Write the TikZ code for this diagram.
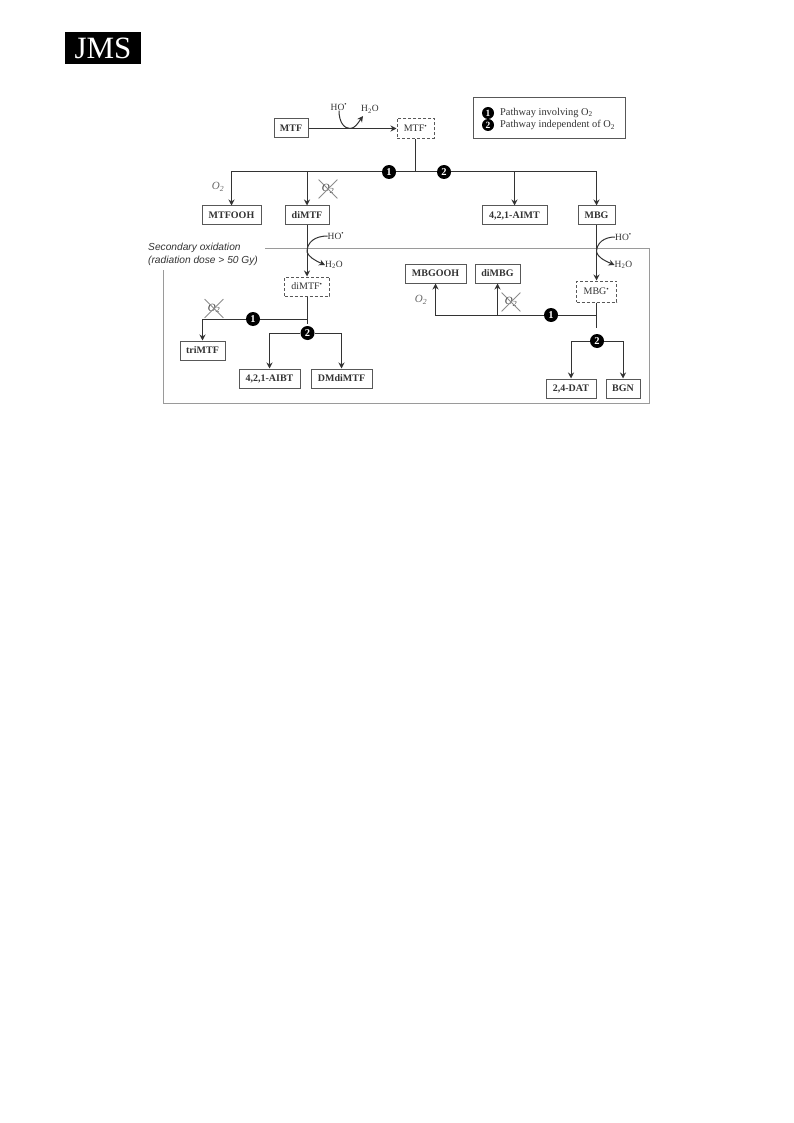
\documentclass[tikz,border=0pt]{standalone}
\usepackage{fontspec}
\setmainfont{Liberation Serif}
\newfontfamily\sansfam{Liberation Sans}
\usetikzlibrary{arrows.meta,shapes.misc,calc}
\definecolor{ink}{HTML}{333333}
\definecolor{frame}{HTML}{9A9A9A}
\definecolor{boxline}{HTML}{585858}
\newcommand{\HOdot}{HO\textsuperscript{•}}
\newcommand{\HtwoO}{H\textsubscript{2}O}
\newcommand{\Otwo}{O\textsubscript{2}}
\tikzset{
  prod/.style={draw=boxline,line width=1pt,fill=white,inner sep=0pt,font=\fontsize{10}{11}\selectfont\bfseries,text=ink},
  radical/.style={draw=boxline,densely dashed,line width=1pt,fill=white,inner sep=0pt,font=\fontsize{10}{11}\selectfont,text=ink},
  conn/.style={draw=ink,line width=1pt},
  arr/.style={conn,-{Stealth[length=6pt,width=6pt]}},
  num/.style={circle,fill=black,text=white,inner sep=0pt,minimum size=14pt,font=\fontsize{10.5}{11}\selectfont\bfseries},
  lnum/.style={num,minimum size=12pt,font=\fontsize{9.5}{10}\selectfont\bfseries},
  reag/.style={inner sep=0pt,font=\fontsize{9.5}{10}\selectfont,text=ink},
  otwo/.style={inner sep=0pt,font=\fontsize{11}{12}\selectfont\itshape,text=black!60},
  noox/.style={otwo,text=black!75,cross out,draw=black!45,line width=0.8pt,minimum width=18pt,minimum height=18pt},
  legend/.style={inner sep=0pt,anchor=west,font=\fontsize{10.4}{11}\selectfont,text=ink},
  note/.style={inner sep=0pt,anchor=west,font=\sansfam\fontsize{10.2}{11}\selectfont\itshape,text=ink}
}
\begin{document}
\begin{tikzpicture}[x=1pt,y=-1pt]
\useasboundingbox (0,0) rectangle (793,1123);
% logo
\node[fill=black,minimum width=76pt,minimum height=32pt,inner sep=0pt,text=white,font=\fontsize{31}{32}\selectfont] (logo) at (103,48) {JMS};
% frame of the secondary oxidation
\draw[frame,line width=1pt] (265,248) -- (649,248) -- (649,403.5) -- (163,403.5) -- (163,270);
\node[note] (sec1) at (148,247.5) {Secondary oxidation};
\node[note] (sec2) at (148,260.5) {(radiation dose > 50 Gy)};
% legend
\node[draw=boxline,line width=1pt,minimum width=152pt,minimum height=41pt,inner sep=0pt] (legendbox) at (549,118.5) {};
\node[lnum] (lg1) at (488,113) {1};
\node[lnum] (lg2) at (488,125) {2};
\node[legend] (lgt1) at (500,113) {Pathway involving \Otwo};
\node[legend] (lgt2) at (500,125) {Pathway independent of \Otwo};
% products
\node[prod,minimum width=34pt,minimum height=19pt] (mtf) at (291,128.5) {MTF};
\node[radical,minimum width=37pt,minimum height=20pt] (mtfr) at (415.5,128.5) {MTF\textsuperscript{•}};
\node[prod,minimum width=59pt,minimum height=19pt] (mtfooh) at (231.5,215.5) {MTFOOH};
\node[prod,minimum width=44pt,minimum height=19pt] (dimtf) at (307,215.5) {diMTF};
\node[prod,minimum width=65pt,minimum height=19pt] (aimt) at (514.5,215.5) {4,2,1-AIMT};
\node[prod,minimum width=37pt,minimum height=19pt] (mbg) at (596.5,215.5) {MBG};
\node[radical,minimum width=45pt,minimum height=19pt] (dimtfr) at (307,286.5) {diMTF\textsuperscript{•}};
\node[prod,minimum width=45pt,minimum height=19pt] (trimtf) at (202.5,350.5) {triMTF};
\node[prod,minimum width=61pt,minimum height=19pt] (aibt) at (269.5,378.5) {4,2,1-AIBT};
\node[prod,minimum width=61pt,minimum height=19pt] (dmdimtf) at (341.5,378.5) {DMdiMTF};
\node[prod,minimum width=61pt,minimum height=19pt] (mbgooh) at (435.5,273.5) {MBGOOH};
\node[prod,minimum width=45pt,minimum height=19pt] (dimbg) at (497.5,273.5) {diMBG};
\node[radical,minimum width=40pt,minimum height=21pt] (mbgr) at (596.5,291.5) {MBG\textsuperscript{•}};
\node[prod,minimum width=50pt,minimum height=19pt] (dat) at (571,388.5) {2,4-DAT};
\node[prod,minimum width=34pt,minimum height=19pt] (bgn) at (623,388.5) {BGN};
% numbered branch points
\node[num] (a1) at (389,172) {1};
\node[num] (a2) at (444,172) {2};
\node[num] (b1) at (253,319) {1};
\node[num] (b2) at (307.5,333) {2};
\node[num] (c1) at (551,315) {1};
\node[num] (c2) at (597,341) {2};
% reagents
\node[reag] (ho1) at (339,107) {\HOdot};
\node[reag] (w1) at (370,109.5) {\HtwoO};
\node[reag] (ho2) at (336,236) {\HOdot};
\node[reag] (w2) at (334,265) {\HtwoO};
\node[reag] (ho3) at (623.5,237) {\HOdot};
\node[reag] (w3) at (623.5,265) {\HtwoO};
\node[otwo] (o1) at (218,187) {\Otwo};
\node[otwo] (o2) at (421,300) {\Otwo};
\node[noox] (x1) at (328,189) {\Otwo};
\node[noox] (x2) at (214,308.5) {\Otwo};
\node[noox] (x3) at (511,302) {\Otwo};
% junctions
\coordinate (ja) at (mtfr.south |- a1);
\coordinate (jb) at (dimtfr.south |- b1);
\coordinate (jbend) at (307,323.5);
\coordinate (jc) at (mbgr.south |- c1);
\coordinate (jcend) at (596.5,328);
\coordinate (jd) at (dimtf.south |- a1);
\coordinate (je) at (aimt.north |- a1);
\coordinate (jf) at (dimbg.south |- c1);
\coordinate (t1) at (350,128.5);
\coordinate (t1e) at (363,116);
\coordinate (t2) at (307,252);
\coordinate (t3) at (596.5,252);
% connectors
\draw[arr] (mtf) -- (mtfr);
\draw[conn] (ho1.south) .. controls (339,122) and (344,128.5) .. (t1);
\draw[arr] (t1) .. controls (355,128.5) and (358,123) .. (t1e);
\draw[conn] (mtfr.south) -- (ja);
\draw[arr] (a1) -| (mtfooh.north);
\draw[arr] (jd) -- (dimtf.north);
\draw[conn] (a1) -- (a2);
\draw[arr] (je) -- (aimt.north);
\draw[arr] (a2) -| (mbg.north);
\draw[arr] (dimtf.south) -- (dimtfr.north);
\draw[conn] (ho2.west) .. controls (315,236) and (307,242) .. (t2);
\draw[arr] (t2) .. controls (309,257) and (314,260) .. (w2.west);
\draw[conn] (dimtfr.south) -- (jbend);
\draw[conn] (b1) -- (jb);
\draw[arr] (b1) -| (trimtf.north);
\draw[arr] (b2) -| (aibt.north);
\draw[arr] (b2) -| (dmdimtf.north);
\draw[arr] (mbg.south) -- (mbgr.north);
\draw[conn] (ho3.west) .. controls (604,237) and (596.5,243) .. (t3);
\draw[arr] (t3) .. controls (598,257) and (603,260) .. (w3.west);
\draw[conn] (mbgr.south) -- (jcend);
\draw[conn] (c1) -- (jc);
\draw[arr] (c1) -| (mbgooh.south);
\draw[arr] (jf) -- (dimbg.south);
\draw[arr] (c2) -| (dat.north);
\draw[arr] (c2) -| (bgn.north);
\end{tikzpicture}
\end{document}
